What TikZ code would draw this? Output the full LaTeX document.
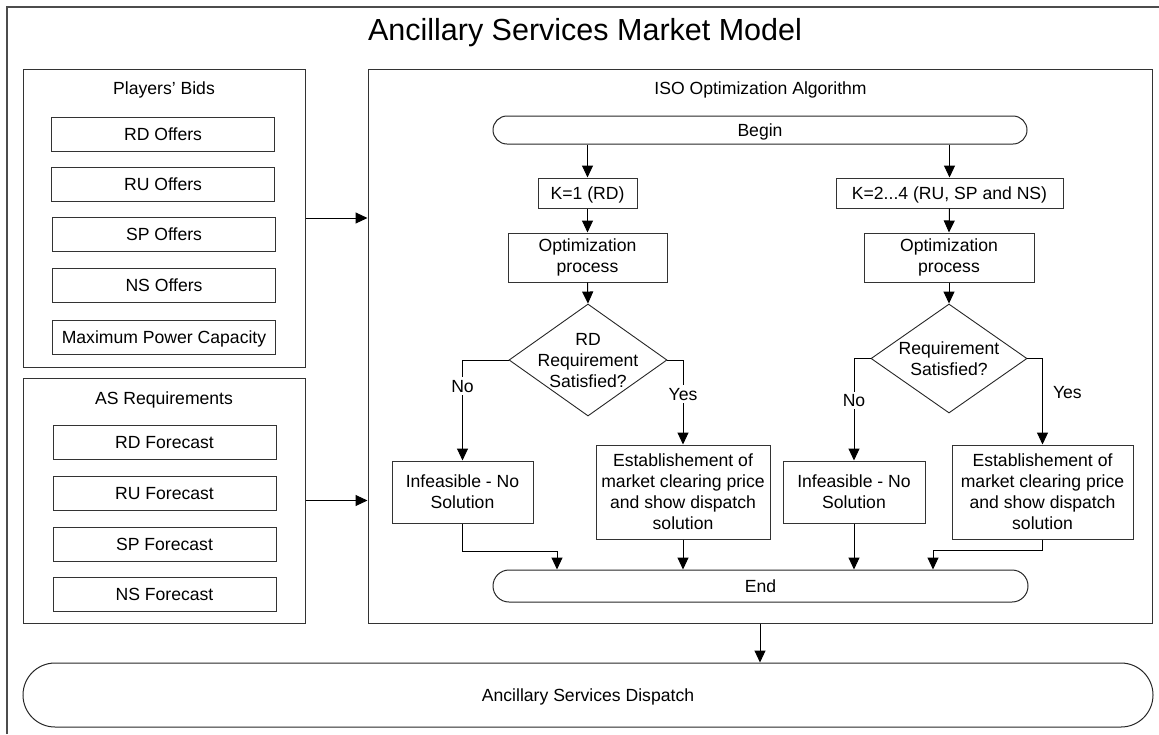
\documentclass[tikz,border=0pt]{standalone}
\usepackage{fontspec}
\setmainfont{Liberation Sans}
\usetikzlibrary{arrows.meta,shapes.geometric}
\begin{document}
\begin{tikzpicture}[x=1pt,y=-1pt,
  every node/.style={font=\fontsize{17.6}{21}\selectfont, inner sep=0pt,
    text height=13pt, text depth=0.5pt, align=center},
  ml/.style={text height=, text depth=},
  sz/.style 2 args={minimum width=#1pt, minimum height=#2pt},
  box/.style={draw=black!80, line width=1pt, rectangle},
  term/.style={draw=black!85, line width=1pt, rectangle, rounded corners=#1pt},
  dia/.style={draw=black!85, line width=0.9pt, diamond, shape aspect=1},
  arr/.style={draw=black, line width=1pt, -{Triangle[length=12pt,width=11pt]}},
  lbl/.style={fill=white, inner sep=2pt},
  frame/.style={draw=black!70, line width=1.3pt}]
\useasboundingbox (0,0) rectangle (1159,734);

% outer frame (open to the right and bottom)
\draw[frame] (7,734) -- (7,7) -- (1159,7);
\node[anchor=base, font=\fontsize{30.5}{36}\selectfont] (title) at (585,40)
  {Ancillary Services Market Model};

% players' bids
\node[box, sz={282}{298}] (pbids) at (164,218) {};
\node[anchor=base] (pbidsT) at (164,94.5) {Players’ Bids};
\node[box, sz={223}{34}] (rdo) at (163,134) {RD Offers};
\node[box, sz={223}{34}] (ruo) at (163,184) {RU Offers};
\node[box, sz={223}{34}] (spo) at (164,234) {SP Offers};
\node[box, sz={223}{34}] (nso) at (164,285.5) {NS Offers};
\node[box, sz={223}{34}] (mpc) at (164,337) {Maximum Power Capacity};

% AS requirements
\node[box, sz={282}{245}] (asreq) at (164,500.5) {};
\node[anchor=base] (asreqT) at (164,404) {AS Requirements};
\node[box, sz={223}{34}] (rdf) at (164.5,442) {RD Forecast};
\node[box, sz={223}{34}] (ruf) at (164.5,493.5) {RU Forecast};
\node[box, sz={223}{34}] (spf) at (164.5,544) {SP Forecast};
\node[box, sz={223}{34}] (nsf) at (164.5,594) {NS Forecast};

% ISO optimization algorithm
\node[box, sz={784}{554}] (iso) at (760,346) {};
\node[anchor=base] (isoT) at (760.5,94.5) {ISO Optimization Algorithm};
\node[term=14, sz={534}{28}] (begin) at (760,130) {Begin};

% left branch: K=1
\node[box, sz={99}{30}] (k1) at (587.5,193) {K=1 (RD)};
\node[box, ml, sz={159}{49}] (opt1) at (587.5,257.5) {Optimization\\process};
\node[dia, sz={158}{112}] (d1) at (588,360) {};
\node[ml] (d1T) at (588,361) {RD\\Requirement\\Satisfied?};
\node[box, ml, sz={141}{62}] (inf1) at (462.5,492) {Infeasible - No\\Solution};
\node[box, ml, sz={174}{94}] (est1) at (683,492)
  {Establishement of\\market clearing price\\and show dispatch\\solution};

% right branch: K=2...4
\node[box, sz={227}{30}] (k2) at (949.5,193) {K=2...4 (RU, SP and NS)};
\node[box, ml, sz={170}{49}] (opt2) at (949,257.5) {Optimization\\process};
\node[dia, sz={156}{109}] (d2) at (949,358.5) {};
\node[ml] (d2T) at (949,359) {Requirement\\Satisfied?};
\node[box, ml, sz={142}{62}] (inf2) at (854,492) {Infeasible - No\\Solution};
\node[box, ml, sz={181}{94}] (est2) at (1042.5,492)
  {Establishement of\\market clearing price\\and show dispatch\\solution};

\node[term=16, sz={535}{32}] (end) at (760.5,586) {End};

% dispatch
\node[term=32, sz={1130}{64}] (disp) at (588,695) {Ancillary Services Dispatch};

% bend points of the merging connectors
\coordinate (j1) at (557,551);
\coordinate (j2) at (933,550);

% inputs to the ISO
\draw[arr] (pbids.east) -- (pbids.east -| iso.west);
\draw[arr] (asreq.east) -- (asreq.east -| iso.west);

% left flow
\draw[arr] (begin.south -| k1) -- (k1.north);
\draw[arr] (k1.south) -- (opt1.north);
\draw[arr] (opt1.south) -- (d1.north);
\draw[arr] (d1.west) -- (d1.west -| inf1) -- node[lbl, pos=0.26] (no1) {No} (inf1.north);
\draw[arr] (d1.east) -- (d1.east -| est1) -- node[lbl, pos=0.4] (yes1) {Yes} (est1.north);
\draw[arr] (inf1.south) |- (j1) -- (j1 |- end.north);
\draw[arr] (est1.south) -- (est1.south |- end.north);

% right flow
\draw[arr] (begin.south -| k2) -- (k2.north);
\draw[arr] (k2.south) -- (opt2.north);
\draw[arr] (opt2.south) -- (d2.north);
\draw[arr] (d2.west) -- (d2.west -| inf2) -- node[lbl, pos=0.41] (no2) {No} (inf2.north);
\draw[arr] (d2.east) -- (d2.east -| est2) -- node[pos=0.39, anchor=west, inner sep=0pt, xshift=10pt] (yes2) {Yes} (est2.north);
\draw[arr] (inf2.south) -- (inf2.south |- end.north);
\draw[arr] (est2.south) |- (j2) -- (j2 |- end.north);

% output
\draw[arr] (iso.south) -- (iso.south |- disp.north);
\end{tikzpicture}
\end{document}
